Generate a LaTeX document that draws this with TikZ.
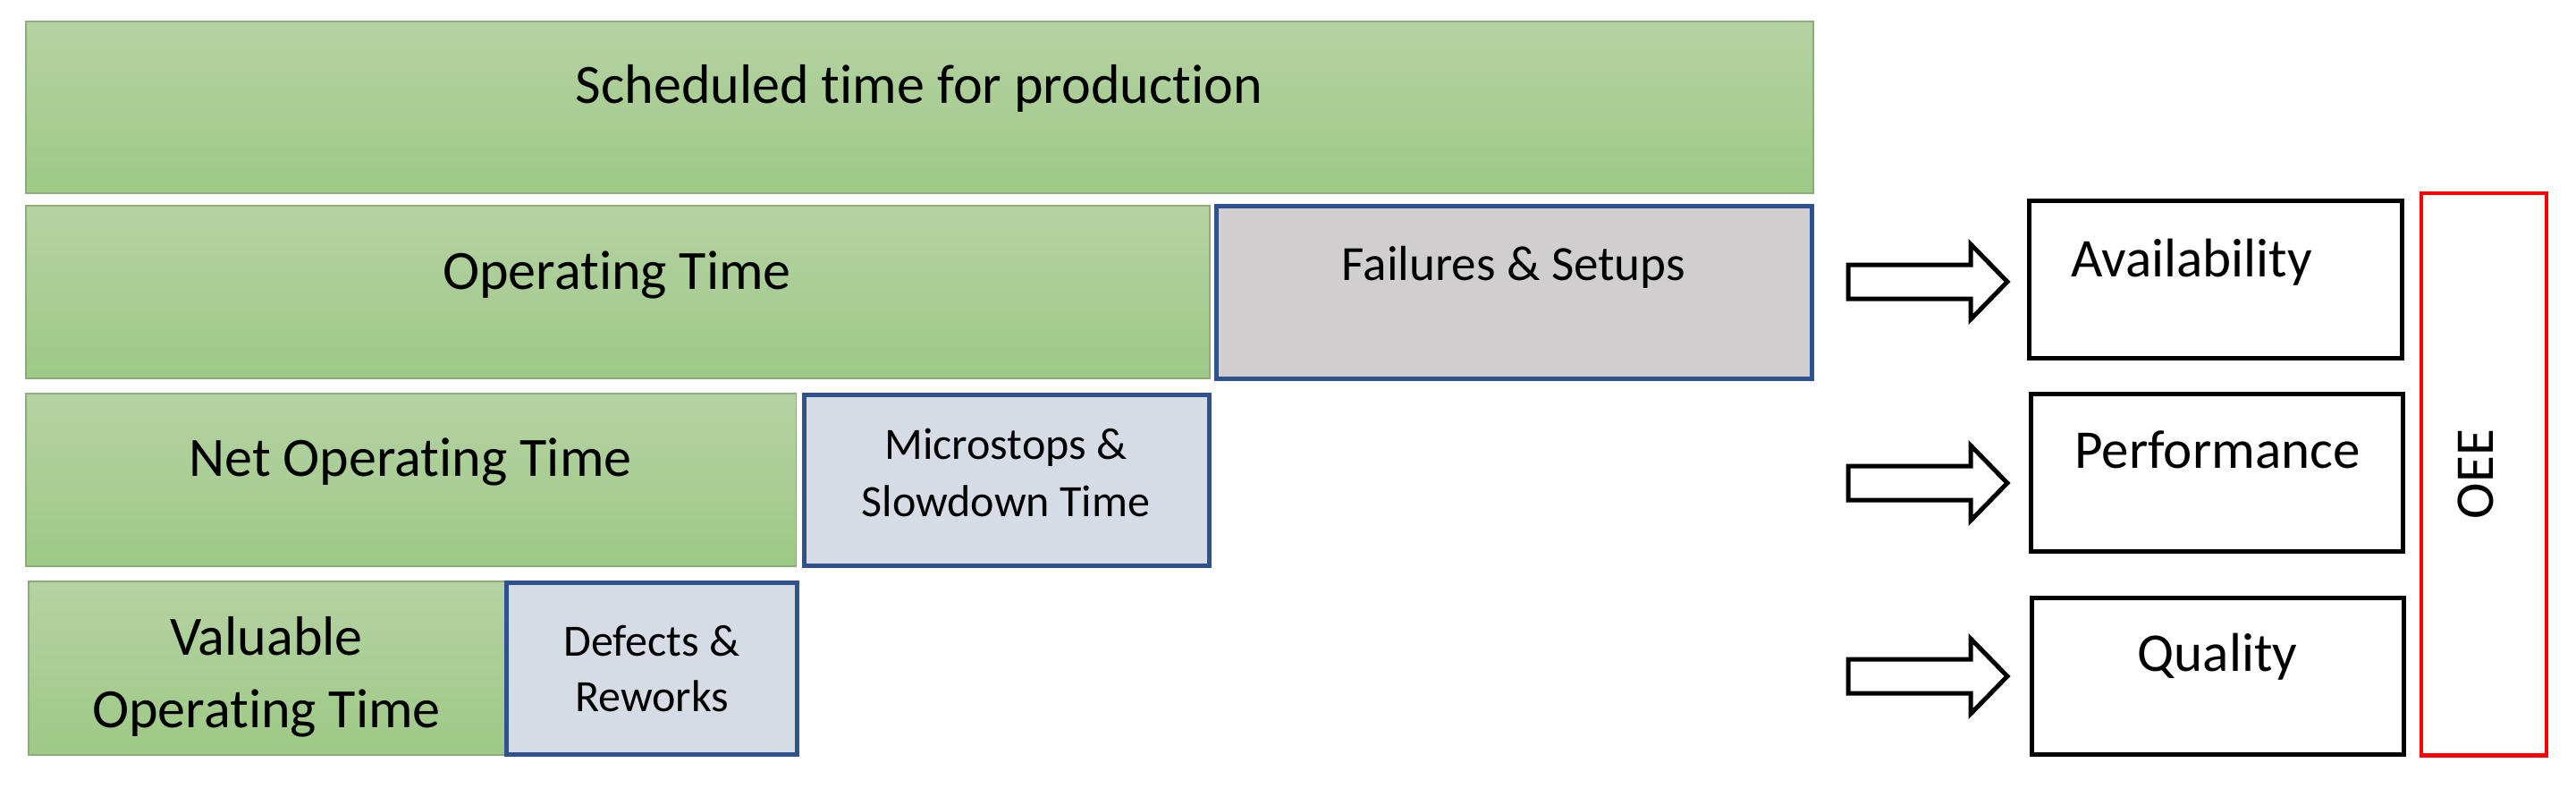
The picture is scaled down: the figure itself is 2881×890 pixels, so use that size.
\documentclass[tikz,border=0pt]{standalone}
\usepackage{fontspec}
\setmainfont[RawFeature={-liga;-clig;-calt}]{Carlito}
\definecolor{gtop}{RGB}{181,210,163}
\definecolor{gbot}{RGB}{158,201,134}
\definecolor{gedge}{RGB}{140,172,118}
\definecolor{lossblue}{RGB}{47,82,143}
\definecolor{failfill}{RGB}{208,206,206}
\definecolor{lossfill}{RGB}{214,220,229}
\definecolor{oeered}{RGB}{255,0,0}
\tikzset{
  basebox/.style={rectangle, inner sep=0pt, outer sep=0pt, anchor=north west},
  greenbox/.style={basebox, draw=gedge, line width=0.015cm, top color=gtop, bottom color=gbot},
  failbox/.style={basebox, draw=lossblue, line width=0.05cm, fill=failfill},
  lossbox/.style={basebox, draw=lossblue, line width=0.05cm, fill=lossfill},
  kpibox/.style={basebox, draw=black, line width=0.05cm, fill=white},
  oeebox/.style={basebox, draw=oeered, line width=0.045cm},
  txtbig/.style={font=\fontsize{17.64pt}{21pt}\selectfont, anchor=base, inner sep=0pt},
  txtmid/.style={font=\fontsize{15.65pt}{19pt}\selectfont, anchor=base, inner sep=0pt},
  txtsmall/.style={font=\fontsize{14.23pt}{17pt}\selectfont, anchor=base, inner sep=0pt},
  txtkpi/.style={font=\fontsize{17.36pt}{21pt}\selectfont, anchor=base, inner sep=0pt},
  blockarrow/.style={draw=black, line width=0.05cm, fill=white, line join=miter},
}
\newcommand\kpiarrow[1]{%
  \draw[blockarrow] (2067,#1-19) -- (2204,#1-19) -- (2204,#1-42) -- (2245,#1)
    -- (2204,#1+42) -- (2204,#1+19) -- (2067,#1+19) -- cycle;}
\begin{document}
\begin{tikzpicture}[x=0.01cm,y=-0.01cm]
\useasboundingbox[fill=white] (0,0) rectangle (2881,890);

% time bars
\node[greenbox, minimum width=19.98cm, minimum height=1.92cm] (sched) at (29,24) {};
\node[greenbox, minimum width=13.23cm, minimum height=1.93cm] (optime) at (29,230) {};
\node[failbox,  minimum width=6.66cm,  minimum height=1.93cm] (fail) at (1360,230) {};
\node[greenbox, minimum width=8.61cm,  minimum height=1.93cm] (netop) at (29,440) {};
\node[lossbox,  minimum width=4.53cm,  minimum height=1.91cm] (micro) at (899,441) {};
\node[greenbox, minimum width=5.32cm,  minimum height=1.94cm] (valop) at (32,650) {};
\node[lossbox,  minimum width=3.25cm,  minimum height=1.92cm] (defects) at (566,651) {};

% texts in bars
\node[txtbig] (schedtxt) at (1028,115) {Scheduled time for production};
\node[txtbig] (optimetxt) at (690,323) {Operating Time};
\node[txtmid] (failtxt) at (1693,313) {Failures \& Setups};
\node[txtbig] (netoptxt) at (459,532) {Net Operating Time};
\node[txtsmall] (microtxtA) at (1125,513) {Microstops \&};
\node[txtsmall] (microtxtB) at (1125,577) {Slowdown Time};
\node[txtbig] (valoptxtA) at (298,732) {Valuable};
\node[txtbig] (valoptxtB) at (298,813) {Operating Time};
\node[txtsmall] (defectstxtA) at (729,733) {Defects \&};
\node[txtsmall] (defectstxtB) at (729,795) {Reworks};

% arrows
\kpiarrow{315}
\kpiarrow{540}
\kpiarrow{756}

% KPI boxes
\node[kpibox, minimum width=4.17cm, minimum height=1.76cm] (avail) at (2269,224) {};
\node[kpibox, minimum width=4.16cm, minimum height=1.76cm] (perf) at (2271,440) {};
\node[kpibox, minimum width=4.16cm, minimum height=1.75cm] (qual) at (2272,668) {};
\node[oeebox, minimum width=1.40cm, minimum height=6.28cm] (oee) at (2708,216) {};

\node[txtkpi] (availtxt) at (2451,309) {Availability};
\node[txtkpi] (perftxt) at (2480,523) {Performance};
\node[txtkpi] (qualtxt) at (2480,750) {Quality};
\node[txtkpi, anchor=center, rotate=90] (oeetxt) at (2769,530) {OEE};
\end{tikzpicture}
\end{document}
